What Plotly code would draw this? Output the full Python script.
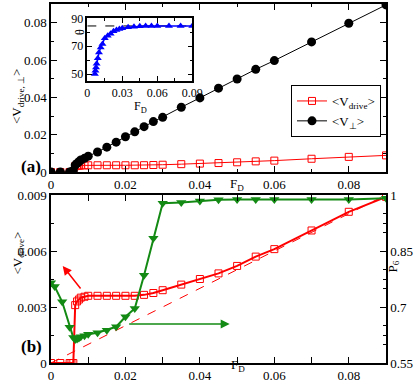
import plotly.graph_objects as go

# F_D grid shared by the main curves
fd = [0, 0.0025, 0.005, 0.0055, 0.006, 0.0065, 0.007, 0.0075, 0.008, 0.009, 0.01,
      0.0125, 0.015, 0.0175, 0.02, 0.0225, 0.025, 0.0275, 0.03, 0.035, 0.04,
      0.045, 0.05, 0.055, 0.06, 0.07, 0.08, 0.09]
v_drive = [0, 0, 0, 0, 0, 0.0031, 0.0033, 0.0034, 0.0035, 0.00355, 0.0036,
           0.0036, 0.0036, 0.0036, 0.0036, 0.0036, 0.00365, 0.00375, 0.0039, 0.0042, 0.0045,
           0.0048, 0.0052, 0.0057, 0.0061, 0.0071, 0.0081, 0.0089]
v_perp = [0, 0, 0, 0, 0.0008, 0.0037, 0.0046, 0.0055, 0.0064, 0.0073, 0.0085,
          0.0107, 0.0133, 0.016, 0.0189, 0.0215, 0.0243, 0.027, 0.0293, 0.0347, 0.0397,
          0.0449, 0.0498, 0.055, 0.0597, 0.0697, 0.0797, 0.0895]

fd_p6 = [0, 0.001, 0.003, 0.005, 0.006, 0.0065, 0.007, 0.0075, 0.008, 0.009, 0.01,
         0.0125, 0.015, 0.0175, 0.02, 0.0225, 0.025, 0.0275, 0.03, 0.035, 0.04,
         0.045, 0.05, 0.055, 0.06, 0.07, 0.08, 0.09]
p6 = [0.765, 0.755, 0.714, 0.646, 0.618, 0.613, 0.614, 0.617, 0.62, 0.623, 0.627,
      0.631, 0.638, 0.647, 0.674, 0.696, 0.785, 0.884, 0.978, 0.98, 0.984,
      0.987, 0.988, 0.988, 0.988, 0.988, 0.988, 0.991]

# inset: theta vs F_D
fd_th = [0.0065, 0.007, 0.0075, 0.008, 0.009, 0.01, 0.0115, 0.013, 0.015, 0.0175,
         0.02, 0.0225, 0.025, 0.0275, 0.03, 0.035, 0.04, 0.045, 0.05, 0.055,
         0.06, 0.07, 0.08, 0.09]
theta = [50, 52.4, 54.7, 57.4, 61.4, 65.4, 69, 71.6, 75.7, 77.4,
         79, 80.7, 81.6, 82.4, 82.8, 83.5, 84, 84.3, 84.5, 84.5,
         84.5, 84.5, 84.5, 84.5]
theta_lim = 84.5
slope_ref = [0, 0.09]
slope_ref_v = [0, 0.009]

W, H = 415, 386
RED = "#ff0000"
GREEN = "#138a13"
FONT = "Liberation Serif"

def px(x):
    return x / W

def py(y):
    return 1 - y / H

fig = go.Figure()

# panel (a)
fig.add_trace(go.Scatter(x=fd, y=v_drive, mode="lines+markers", name="&lt;V<sub>drive</sub>&gt;",
                         line=dict(color=RED, width=1),
                         marker=dict(symbol="square-open", size=7, color=RED, line=dict(width=1)),
                         xaxis="x", yaxis="y"))
fig.add_trace(go.Scatter(x=fd, y=v_perp, mode="lines+markers", name="&lt;V<sub>⊥</sub>&gt;",
                         line=dict(color="black", width=1),
                         marker=dict(symbol="circle", size=9, color="black"),
                         xaxis="x", yaxis="y"))

# inset
fig.add_trace(go.Scatter(x=[0, 0.09], y=[theta_lim, theta_lim], mode="lines",
                         line=dict(color="black", width=1, dash="dash"), showlegend=False,
                         xaxis="x4", yaxis="y4"))
fig.add_trace(go.Scatter(x=fd_th, y=theta, mode="lines+markers", showlegend=False,
                         line=dict(color="#0000ff", width=1.5),
                         marker=dict(symbol="triangle-up", size=7, color="#0000ff"),
                         xaxis="x4", yaxis="y4"))

# panel (b)
fig.add_trace(go.Scatter(x=slope_ref, y=slope_ref_v, mode="lines", showlegend=False,
                         line=dict(color=RED, width=1, dash="dash"), xaxis="x2", yaxis="y2"))
fig.add_trace(go.Scatter(x=fd, y=v_drive, mode="lines+markers", showlegend=False,
                         line=dict(color=RED, width=2),
                         marker=dict(symbol="square-open", size=7, color=RED, line=dict(width=1)),
                         xaxis="x2", yaxis="y2"))
fig.add_trace(go.Scatter(x=fd_p6, y=p6, mode="lines+markers", showlegend=False,
                         line=dict(color=GREEN, width=2),
                         marker=dict(symbol="triangle-down", size=9, color=GREEN),
                         xaxis="x2", yaxis="y3"))

xl, xr = px(51), px(386)
ax_common = dict(showline=True, linecolor="black", linewidth=1.5, mirror="allticks",
                 ticks="inside", ticklen=6, tickwidth=1, tickcolor="black",
                 showgrid=False, zeroline=False, automargin=False,
                 tickfont=dict(family=FONT, size=13, color="black"))

fig.update_layout(
    width=W, height=H, margin=dict(l=0, r=0, t=0, b=0, autoexpand=False),
    paper_bgcolor="white", plot_bgcolor="white",
    font=dict(family=FONT, size=13, color="black"),
    xaxis=dict(domain=[xl, xr], range=[0, 0.09], dtick=0.02, anchor="y",
               minor=dict(dtick=0.01, ticklen=3, ticks="inside", tickcolor="black"), **ax_common),
    yaxis=dict(domain=[py(172), py(4)], range=[0, 0.09], dtick=0.02, anchor="x",
               minor=dict(dtick=0.01, ticklen=3, ticks="inside", tickcolor="black"), **ax_common),
    xaxis2=dict(domain=[xl, xr], range=[0, 0.09], dtick=0.02, anchor="y2",
                minor=dict(dtick=0.01, ticklen=3, ticks="inside", tickcolor="black"), **ax_common),
    yaxis2=dict(domain=[py(363), py(195)], range=[0, 0.009], dtick=0.003, anchor="x2",
                minor=dict(dtick=0.0015, ticklen=3, ticks="inside", tickcolor="black"), **ax_common),
    yaxis3=dict(range=[0.55, 1], tick0=0.55, dtick=0.15, overlaying="y2", side="right",
                anchor="x2", showline=True, linecolor="black", linewidth=1.5, automargin=False,
                ticks="inside", ticklen=6, tickcolor="black", showgrid=False, zeroline=False,
                minor=dict(dtick=0.05, tick0=0.55, ticklen=3, ticks="inside", tickcolor="black"),
                tickfont=dict(family=FONT, size=13, color="black")),
    xaxis4=dict(domain=[px(87.3), px(192.3)], range=[0, 0.09], dtick=0.03, anchor="y4",
                minor=dict(dtick=0.015, ticklen=3, ticks="inside", tickcolor="black"),
                showline=True, linecolor="black", linewidth=1.5, mirror="allticks", automargin=False,
                ticks="inside", ticklen=5, tickcolor="black", showgrid=False, zeroline=False,
                tickfont=dict(family=FONT, size=12, color="black")),
    yaxis4=dict(domain=[py(81), py(18.3)], range=[45, 90], tickvals=[50, 70, 90], anchor="x4",
                minor=dict(dtick=10, tick0=50, ticklen=3, ticks="inside", tickcolor="black"),
                showline=True, linecolor="black", linewidth=1.5, mirror="allticks", automargin=False,
                ticks="inside", ticklen=5, tickcolor="black", showgrid=False, zeroline=False,
                tickfont=dict(family=FONT, size=12, color="black")),
    legend=dict(x=px(291), y=py(85), xanchor="left", yanchor="top",
                bordercolor="black", borderwidth=1, bgcolor="white",
                font=dict(family=FONT, size=13), tracegroupgap=0, itemwidth=30),
)

ann = [
    dict(x=px(237), y=py(185), text="F<sub>D</sub>"),
    dict(x=px(238), y=py(376), text="F<sub>D</sub>"),
    dict(x=px(140), y=py(97), text="F<sub>D</sub>", size=12),
    dict(x=px(7), y=py(67), text="&lt;V<sub>drive, ⊥</sub>&gt;", angle=-90),
    dict(x=px(7), y=py(253), text="&lt;V<sub>drive</sub>&gt;", angle=-90),
    dict(x=px(403), y=py(275), text="P<sub>6</sub>", angle=-90),
    dict(x=px(71), y=py(27), text="θ", angle=-90, size=12),
    dict(x=px(19), y=py(166), text="<b>(a)</b>", size=17),
    dict(x=px(19), y=py(358), text="<b>(b)</b>", size=17),
]
for a in ann:
    fig.add_annotation(x=a["x"], y=a["y"], xref="paper", yref="paper", text=a["text"],
                       showarrow=False, textangle=a.get("angle", 0),
                       font=dict(family=FONT, size=a.get("size", 13), color="black"))

# arrows pointing to the relevant axes
fig.add_annotation(x=0.00315, y=0.0052, ax=0.00826, ay=0.00391, xref="x2", yref="y2",
                   axref="x2", ayref="y2", showarrow=True, arrowhead=2, arrowsize=1.2,
                   arrowwidth=1.5, arrowcolor=RED, text="")
fig.add_annotation(x=0.048, y=0.00209, ax=0.0206, ay=0.00209, xref="x2", yref="y2",
                   axref="x2", ayref="y2", showarrow=True, arrowhead=2, arrowsize=1.2,
                   arrowwidth=1.5, arrowcolor=GREEN, text="")

# drop the page's default body margin so the figure sits at the window's corner
fig.write_html("out.html", config={"displayModeBar": False},
               post_script="document.body.style.margin='0';")
